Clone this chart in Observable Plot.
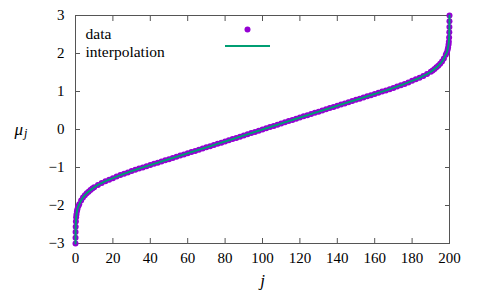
<!DOCTYPE html>
<html>
<head>
<meta charset="utf-8">
<script src="https://cdn.jsdelivr.net/npm/d3@7"></script>
<script src="https://cdn.jsdelivr.net/npm/@observablehq/plot@0.6"></script>
<style>
  html, body { margin: 0; padding: 0; background: #fff; }
  #chart { width: 480px; height: 297px; }
  #chart svg text { font-family: "Liberation Serif", "DejaVu Serif", serif !important; }
</style>
</head>
<body>
<div id="chart"></div>
<script>
// index j of each sample
const jValues = [
  0, 0.02, 0.05, 0.1, 0.2, 0.35, 0.5, 0.75, 1, 1.5, 2, 3, 4, 5, 6, 7, 8, 9, 10,
  12, 14, 16, 18, 20, 22, 24, 26, 28, 30, 32, 34, 36, 38, 40, 42, 44, 46, 48, 50,
  52, 54, 56, 58, 60, 62, 64, 66, 68, 70, 72, 74, 76, 78, 80, 82, 84, 86, 88, 90,
  92, 94, 96, 98, 100,
  102, 104, 106, 108, 110, 112, 114, 116, 118, 120, 122, 124, 126, 128, 130,
  132, 134, 136, 138, 140, 142, 144, 146, 148, 150, 152, 154, 156, 158, 160,
  162, 164, 166, 168, 170, 172, 174, 176, 178, 180, 182, 184, 186, 188, 190,
  191, 192, 193, 194, 195, 196, 197, 198, 198.5, 199, 199.25, 199.5, 199.65,
  199.8, 199.9, 199.95, 199.98, 200
];
// mu_j
const muValues = [
  -3.00, -2.85, -2.70, -2.56, -2.42, -2.31, -2.24, -2.16, -2.10, -2.02, -1.97, -1.87, -1.79, -1.73, -1.68, -1.635, -1.595, -1.555, -1.52,
  -1.46, -1.41, -1.36, -1.32, -1.28, -1.24, -1.20, -1.165, -1.13, -1.095, -1.062, -1.029, -0.997, -0.966, -0.935, -0.904, -0.873, -0.842, -0.811, -0.780,
  -0.749, -0.718, -0.687, -0.656, -0.625, -0.594, -0.563, -0.532, -0.501, -0.470, -0.439, -0.408, -0.377, -0.346, -0.315, -0.284, -0.252, -0.221, -0.189, -0.158,
  -0.126, -0.095, -0.063, -0.032, 0.000,
  0.032, 0.063, 0.095, 0.126, 0.158, 0.189, 0.221, 0.252, 0.284, 0.315, 0.346, 0.377, 0.408, 0.439, 0.470,
  0.501, 0.532, 0.563, 0.594, 0.625, 0.656, 0.687, 0.718, 0.749, 0.780, 0.811, 0.842, 0.873, 0.904, 0.935,
  0.966, 0.997, 1.029, 1.062, 1.095, 1.13, 1.165, 1.20, 1.24, 1.28, 1.32, 1.36, 1.41, 1.46, 1.52,
  1.555, 1.595, 1.635, 1.68, 1.73, 1.79, 1.87, 1.97, 2.02, 2.10, 2.16, 2.24, 2.31,
  2.42, 2.56, 2.70, 2.85, 3.00
];
const xTicks = [0, 20, 40, 60, 80, 100, 120, 140, 160, 180, 200];
const yTicks = [-3, -2, -1, 0, 1, 2, 3];
const legendLabels = ["data", "interpolation"];

const data = jValues.map((j, i) => ({j, mu: muValues[i]}));

const purple = "#9400d3";
const green = "#009e73";
const axisGray = "#555";
const serif = "'Liberation Serif', 'DejaVu Serif', serif";

const legendLine = (index, scales, values, dims) => {
  const g = d3.create("svg:g");
  g.append("line")
    .attr("x1", dims.marginLeft + 150)
    .attr("x2", dims.marginLeft + 195)
    .attr("y1", dims.marginTop + 31)
    .attr("y2", dims.marginTop + 31)
    .attr("stroke", green)
    .attr("stroke-width", 2);
  return g.node();
};

const chart = Plot.plot({
  width: 480,
  height: 297,
  marginLeft: 75,
  marginRight: 31,
  marginTop: 15,
  marginBottom: 54,
  style: {fontFamily: serif, fontSize: "15px", color: "#000", background: "#fff"},
  x: {domain: [0, 200]},
  y: {domain: [-3, 3]},
  marks: [
    // ticks, inward on all four sides
    Plot.axisX(xTicks, {anchor: "bottom", tickSize: 5, dy: -5, fill: "none", stroke: axisGray, label: null}),
    Plot.axisX(xTicks, {anchor: "top", tickSize: 5, dy: 5, fill: "none", stroke: axisGray, label: null}),
    Plot.axisY(yTicks, {anchor: "left", tickSize: 5, dx: 5, fill: "none", stroke: axisGray, label: null}),
    Plot.axisY(yTicks, {anchor: "right", tickSize: 5, dx: -5, fill: "none", stroke: axisGray, label: null}),
    // tick labels
    Plot.axisX(xTicks, {anchor: "bottom", tickSize: 0, tickPadding: 9, label: null, fill: "#000", fontSize: 15}),
    Plot.axisY(yTicks, {anchor: "left", tickSize: 0, tickPadding: 11, label: null, fill: "#000", fontSize: 15}),
    Plot.frame({stroke: axisGray}),
    // data
    Plot.dot(data, {x: "j", y: "mu", r: 3, fill: purple, stroke: "none"}),
    Plot.line(data, {x: "j", y: "mu", stroke: green, strokeWidth: 2, curve: "monotone-x"}),
    // axis titles
    Plot.text(["μ"], {frameAnchor: "left", dx: -61, dy: 0, textAnchor: "start", fontStyle: "italic", fontSize: 17, fill: "#000"}),
    Plot.text(["j"], {frameAnchor: "left", dx: -51.5, dy: 4, textAnchor: "start", fontStyle: "italic", fontSize: 12, fill: "#000"}),
    Plot.text(["j"], {frameAnchor: "bottom", dy: 42, fontStyle: "italic", fontSize: 17, fill: "#000"}),
    // legend
    Plot.text([legendLabels[0]], {frameAnchor: "top-left", dx: 10, dy: 12.5, textAnchor: "start", fontSize: 15.5, fill: "#000"}),
    Plot.text([legendLabels[1]], {frameAnchor: "top-left", dx: 10, dy: 30, textAnchor: "start", fontSize: 15.5, fill: "#000"}),
    Plot.dot([legendLabels[0]], {frameAnchor: "top-left", dx: 172, dy: 14, r: 3, fill: purple, stroke: "none"}),
    legendLine
  ]
});
document.getElementById("chart").appendChild(chart);
</script>
</body>
</html>
